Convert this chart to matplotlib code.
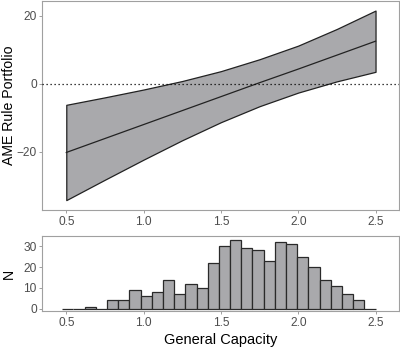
import numpy as np
import matplotlib
matplotlib.use("Agg")
import matplotlib.pyplot as plt

# =========================
# data
# =========================
capacity = [0.5, 0.75, 1.0, 1.25, 1.5, 1.75, 2.0, 2.25, 2.5]
ame_est = [-20.2, -16.1, -12.0, -7.9, -3.8, 0.3, 4.3, 8.4, 12.5]
ame_lower = [-34.2, -28.2, -22.3, -16.6, -11.3, -6.6, -2.6, 0.7, 3.5]
ame_upper = [-6.2, -4.0, -1.7, 0.8, 3.7, 7.2, 11.2, 16.1, 21.5]

hist_lo, hist_hi = 0.474, 2.5
hist_counts = [0, 0, 1, 0, 4, 4, 9, 6, 8, 14, 7, 12, 10, 22,
               30, 33, 29, 28, 23, 32, 31, 25, 20, 14, 11, 7, 4, 0]

x_ticks = [0.5, 1.0, 1.5, 2.0, 2.5]
x_tick_labels = ["0.5", "1.0", "1.5", "2.0", "2.5"]

# =========================
# style
# =========================
plt.rcParams["font.family"] = ["Liberation Sans", "DejaVu Sans"]
FRAME = "#a0a0a0"
TICKTXT = "#4d4d4d"
BAND = "#a9a9ac"
LINE = "#222222"


def style_axes(ax):
    for sp in ax.spines.values():
        sp.set_color(FRAME)
        sp.set_linewidth(0.8)
    ax.tick_params(colors=FRAME, labelcolor=TICKTXT, labelsize=8.6,
                   length=2.5, width=0.7, pad=1.5)


fig = plt.figure(figsize=(4.0, 3.48), dpi=100)
ax_top = fig.add_axes([0.1058, 0.3966, 0.8918, 0.6014])
ax_bot = fig.add_axes([0.1058, 0.1055, 0.8918, 0.2155])

# ===== marginal effect panel =====
ax_top.fill_between(capacity, ame_lower, ame_upper, facecolor=BAND,
                    edgecolor=LINE, linewidth=0.9, zorder=2)
ax_top.plot(capacity, ame_est, color=LINE, linewidth=0.9, zorder=3)
ax_top.axhline(0, color="black", linestyle=(0, (1, 2.2)), linewidth=0.9, zorder=4)
ax_top.set_xlim(0.345, 2.652)
ax_top.set_ylim(-37.1, 24.4)
ax_top.set_xticks(x_ticks)
ax_top.set_xticklabels(x_tick_labels)
ax_top.set_yticks([-20, 0, 20])
ax_top.set_yticklabels(["\u221220", "0", "20"])
ax_top.set_ylabel("AME Rule Portfolio", fontsize=10.2)
ax_top.yaxis.set_label_coords(-0.074, 0.5)
style_axes(ax_top)

# ===== histogram panel =====
edges = np.linspace(hist_lo, hist_hi, len(hist_counts) + 1)
ax_bot.bar(edges[:-1], hist_counts, width=np.diff(edges), align="edge",
           facecolor=BAND, edgecolor="#2a2a2a", linewidth=0.9, zorder=2)
ax_bot.set_xlim(0.345, 2.652)
ax_bot.set_ylim(-1.25, 34.8)
ax_bot.set_xticks(x_ticks)
ax_bot.set_xticklabels(x_tick_labels)
ax_bot.set_yticks([0, 10, 20, 30])
ax_bot.set_ylabel("N", fontsize=10.2)
ax_bot.yaxis.set_label_coords(-0.074, 0.5)
ax_bot.set_xlabel("General Capacity", fontsize=10.5, labelpad=3)
style_axes(ax_bot)

fig.savefig("out.png", dpi=100)
